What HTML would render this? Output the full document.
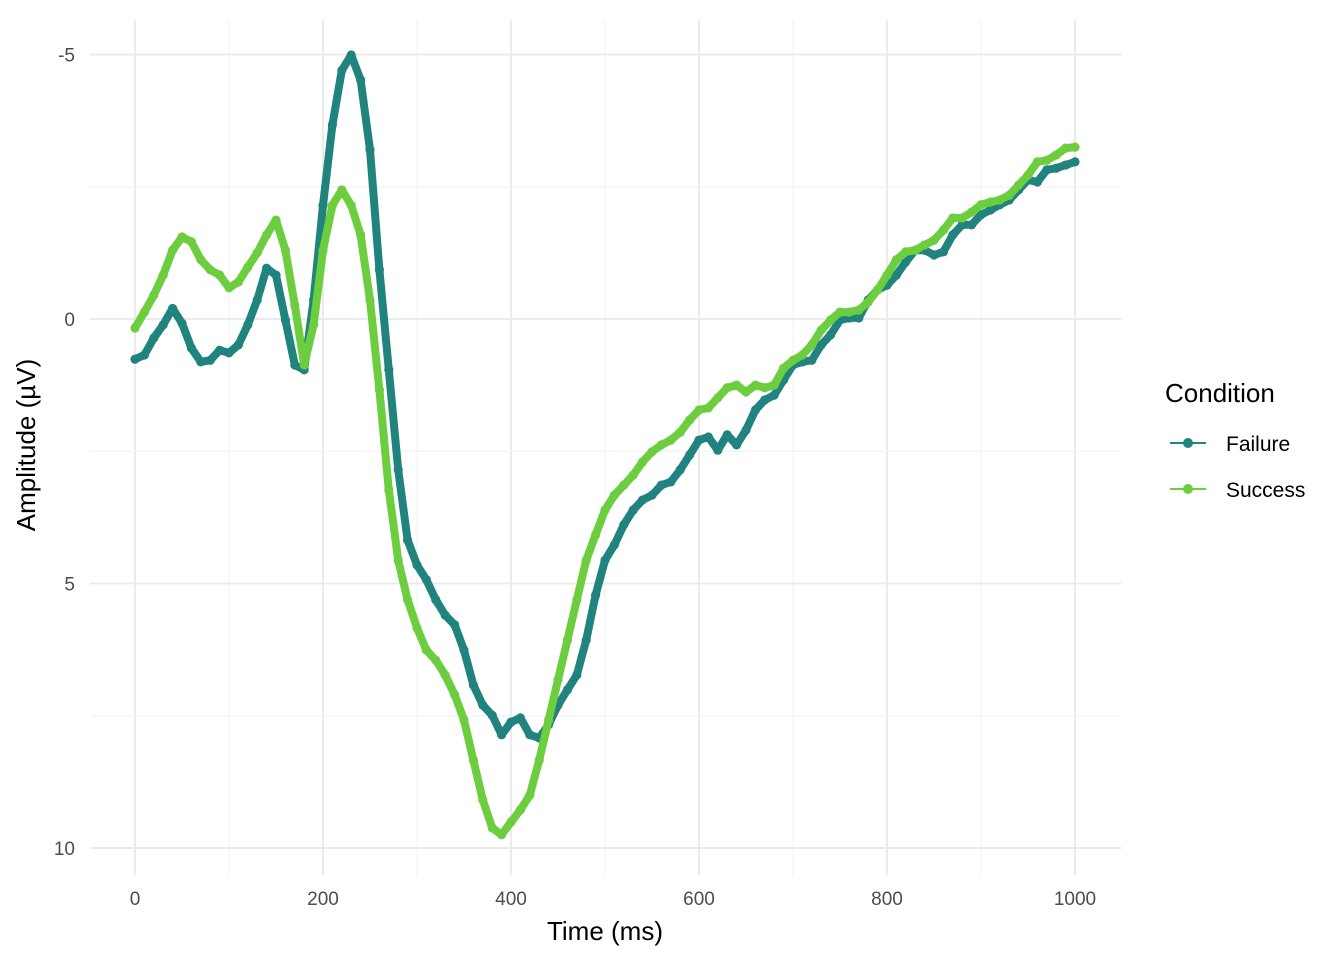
<!DOCTYPE html>
<html><head><meta charset="utf-8"><style>
body{margin:0;background:#fff;}
svg{display:block;font-family:"Liberation Sans",sans-serif;}
</style></head><body>
<svg id="chart" width="1344" height="960">
<g id="grid"></g>
<g id="series"></g>
<g id="axes"></g>
<text x="605" y="940" text-anchor="middle" font-size="26" fill="#000">Time (ms)</text>
<text transform="translate(35,445) rotate(-90)" text-anchor="middle" font-size="26" fill="#000">Amplitude (µV)</text>
<g>
<text x="1165" y="402" font-size="26" fill="#000">Condition</text>
<g>
<line x1="1170" y1="443" x2="1206" y2="443" stroke="#21837E" stroke-width="2"/>
<circle cx="1188" cy="443" r="5" fill="#21837E"/>
<text x="1226" y="451" font-size="21" fill="#000">Failure</text></g>
<g>
<line x1="1170" y1="489" x2="1206" y2="489" stroke="#6CCD3E" stroke-width="2"/>
<circle cx="1188" cy="489" r="5" fill="#6CCD3E"/>
<text x="1226" y="497" font-size="21" fill="#000">Success</text></g>
</g>
</svg>
<script>
const times = Array.from({length:101},(_,i)=>i*10);
const failure = [0.76,0.68,0.36,0.11,-0.2,0.08,0.55,0.81,0.78,0.59,0.64,0.49,0.11,-0.36,-0.96,-0.83,0.02,0.87,0.96,-0.36,-2.15,-3.67,-4.7,-4.99,-4.52,-3.2,-0.93,0.96,2.85,4.18,4.65,4.93,5.31,5.6,5.78,6.26,6.92,7.3,7.49,7.86,7.62,7.54,7.86,7.92,7.67,7.3,7.01,6.73,6.07,5.22,4.56,4.27,3.89,3.61,3.42,3.33,3.14,3.08,2.85,2.57,2.29,2.23,2.48,2.19,2.38,2.1,1.72,1.53,1.44,1.15,0.87,0.81,0.78,0.49,0.3,0.02,-0.02,-0.02,-0.36,-0.55,-0.64,-0.83,-1.08,-1.3,-1.3,-1.21,-1.27,-1.59,-1.78,-1.78,-1.97,-2.06,-2.16,-2.25,-2.44,-2.63,-2.59,-2.82,-2.85,-2.91,-2.97];
const success = [0.17,-0.13,-0.45,-0.83,-1.3,-1.55,-1.46,-1.12,-0.93,-0.83,-0.59,-0.7,-0.98,-1.25,-1.59,-1.87,-1.3,-0.26,0.87,0.11,-1.3,-2.15,-2.44,-2.15,-1.59,-0.36,1.34,3.23,4.56,5.31,5.84,6.26,6.45,6.73,7.1,7.58,8.34,9.09,9.62,9.75,9.51,9.28,9.0,8.34,7.58,6.82,6.07,5.31,4.56,4.08,3.61,3.33,3.14,2.95,2.7,2.51,2.38,2.29,2.14,1.91,1.72,1.68,1.49,1.3,1.25,1.38,1.25,1.3,1.25,0.93,0.78,0.68,0.49,0.21,0.02,-0.13,-0.13,-0.17,-0.32,-0.55,-0.83,-1.12,-1.27,-1.3,-1.4,-1.49,-1.68,-1.91,-1.91,-2.02,-2.16,-2.21,-2.25,-2.34,-2.53,-2.72,-2.97,-3.0,-3.1,-3.23,-3.25];
const xTicks = [0,200,400,600,800,1000];
const yTicks = [-5,0,5,10];
const NS="http://www.w3.org/2000/svg";
const xs = t => 135 + t*0.94;
const ys = v => 319 + v*52.9;
function mk(tag, attrs, parent){const e=document.createElementNS(NS,tag);for(const k in attrs)e.setAttribute(k,attrs[k]);parent.appendChild(e);return e;}
const grid=document.getElementById('grid'), axes=document.getElementById('axes'), ser=document.getElementById('series');
for(let i=0;i<xTicks.length;i++){
  const t=xTicks[i];
  const l=mk('line',{x1:xs(t),x2:xs(t),y1:20,y2:875,stroke:'#ebebeb','stroke-width':2},grid);
  
  
  if(i<xTicks.length-1){const m=(t+xTicks[i+1])/2;
    const lm=mk('line',{x1:xs(m),x2:xs(m),y1:20,y2:875,stroke:'#f2f2f2','stroke-width':1.2},grid);
    
    }
  const tx=mk('text',{x:xs(t),y:905,'text-anchor':'middle','font-size':19,fill:'#4d4d4d'},axes);
  tx.textContent=t;
  
  
}
for(let i=0;i<yTicks.length;i++){
  const v=yTicks[i];
  const l=mk('line',{x1:90,x2:1121,y1:ys(v),y2:ys(v),stroke:'#ebebeb','stroke-width':2},grid);
  
  
  if(i<yTicks.length-1){const m=(v+yTicks[i+1])/2;
    const lm=mk('line',{x1:90,x2:1121,y1:ys(m),y2:ys(m),stroke:'#f2f2f2','stroke-width':1.2},grid);
    
    }
  const tx=mk('text',{x:75,y:ys(v)+7,'text-anchor':'end','font-size':19,fill:'#4d4d4d'},axes);
  tx.textContent=v;
  
  
}
function drawSeries(vals,color,name){
  const g=mk('g',{},ser);
  
  
  const d=vals.map((v,i)=>(i?'L':'M')+xs(times[i]).toFixed(1)+','+ys(v).toFixed(1)).join('');
  const p=mk('path',{d:d,fill:'none',stroke:color,'stroke-width':8,'stroke-linejoin':'round','stroke-linecap':'round'},g);
  
  
  vals.forEach((v,i)=>{
    const c=mk('circle',{cx:xs(times[i]),cy:ys(v),r:4.6,fill:color},g);
    
    
  });
}
drawSeries(failure,'#21837E','failure');
drawSeries(success,'#6CCD3E','success');
</script>
</body></html>
